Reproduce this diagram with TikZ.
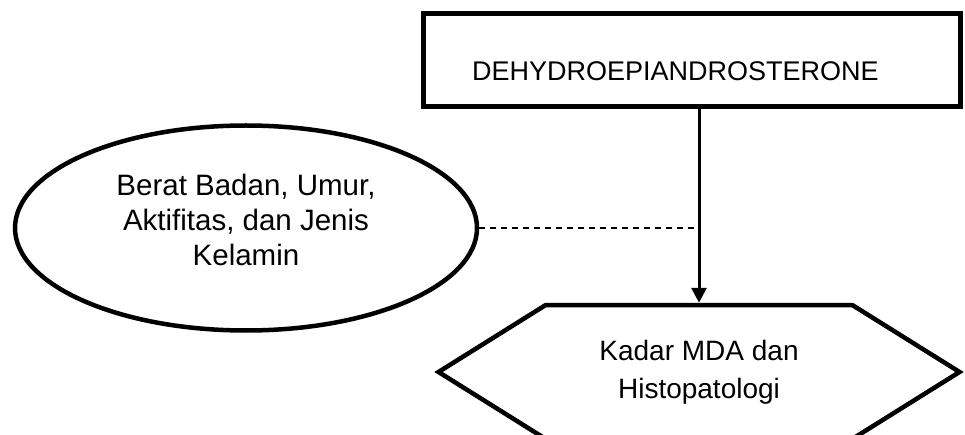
\documentclass[tikz,border=0pt]{standalone}
\usepackage{fontspec}
\setmainfont{Liberation Sans}
\usetikzlibrary{shapes.geometric, shapes.symbols, arrows.meta, positioning}

\begin{document}
\begin{tikzpicture}[x=1pt, y=-1pt,
    boxline/.style={draw, line width=4.5pt, line join=miter},
    flowarrow/.style={line width=3pt, -{Triangle[width=15pt,length=15pt]}}]
  \useasboundingbox[fill=white] (0,0) rectangle (965,435);
  \clip (0,0) rectangle (965,435);

  % variabel bebas
  \node[boxline, line width=5pt, rectangle, minimum width=537pt, minimum height=93pt,
        text width=439pt, inner xsep=49pt, inner ysep=0pt, align=left,
        text height=45pt, text depth=5.6pt,
        font=\fontsize{27}{35}\selectfont] (dhea) at (691.5, 60.5) {DEHYDROEPIANDROSTERONE};

  % variabel pengganggu
  \node[boxline, ellipse, minimum width=462pt, minimum height=205pt, inner sep=0pt, align=center,
        font=\fontsize{29.5}{35}\selectfont] (faktor) at (246, 228)
    {Berat Badan, Umur,\\Aktifitas, dan Jenis\\Kelamin\rule[-16pt]{0pt}{16pt}};

  % variabel terikat
  \node[boxline, signal, signal to=west and east, signal pointer angle=64,
        minimum width=521pt, minimum height=134pt, inner sep=0pt, align=center,
        font=\fontsize{28}{38}\selectfont] (hasil) at (699, 372)
    {Kadar MDA dan\\Histopatologi};

  % hubungan
  \draw[flowarrow] (dhea.south -| hasil.north) -- (hasil.north);
  \draw[line width=1.5pt, dash pattern=on 6pt off 5pt] (faktor.east) -- (faktor.east -| hasil.north);
\end{tikzpicture}
\end{document}
